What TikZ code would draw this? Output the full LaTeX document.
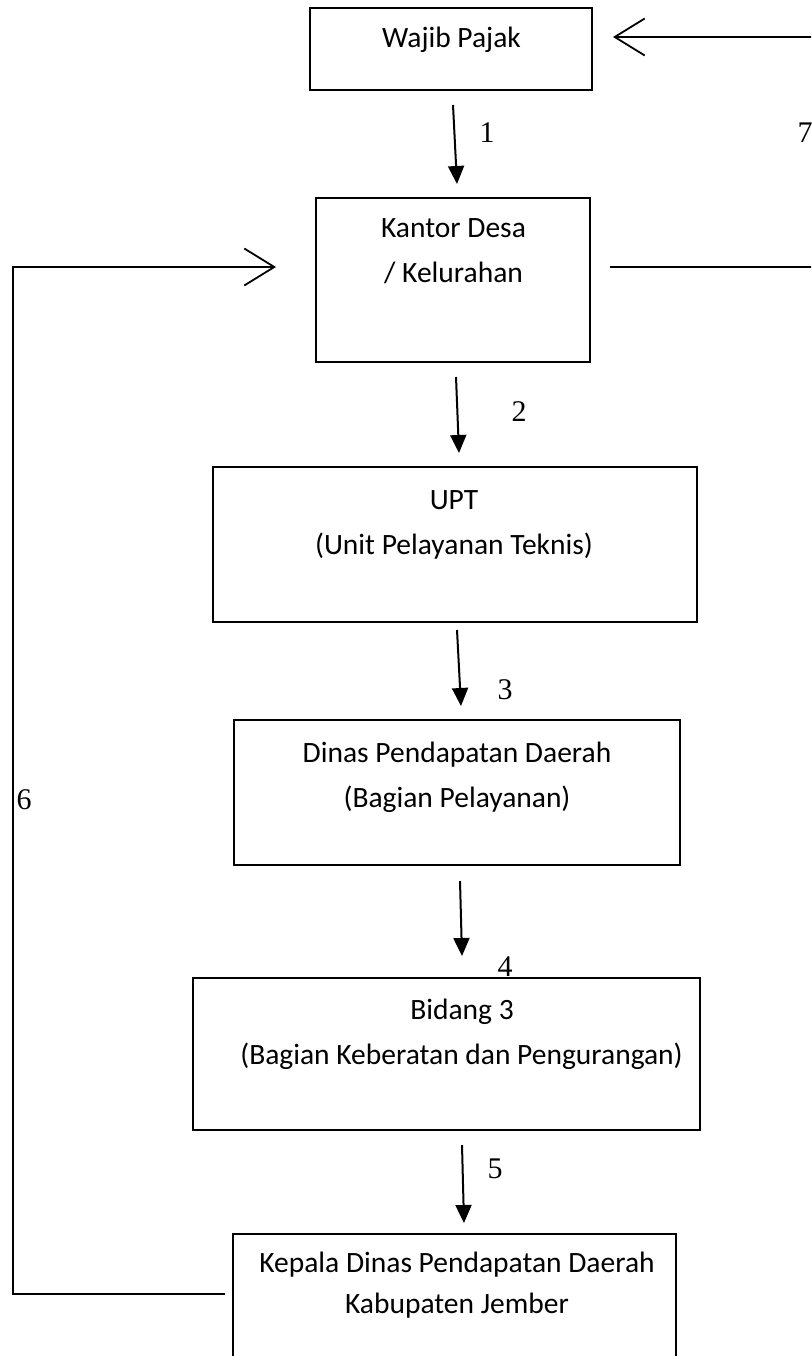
\documentclass[tikz,border=0pt]{standalone}
\usepackage{fontspec}
\setmainfont{Carlito}
\newfontfamily\numfont{Liberation Serif}
\usetikzlibrary{arrows.meta}
\begin{document}
\begin{tikzpicture}[x=1pt,y=-1pt,
  box/.style={draw, line width=1.8pt, inner sep=0pt},
  txt/.style={font=\fontsize{29.5}{33}\selectfont, inner sep=0pt, anchor=base},
  num/.style={font=\numfont\fontsize{30}{34}\selectfont, inner sep=0pt, anchor=base},
  flow/.style={line width=2pt, -{Triangle[length=18pt,width=16pt]}},
  back/.style={line width=1.8pt, -{Straight Barb[length=30pt,width=37pt]}},
  plain/.style={line width=1.8pt}]
\useasboundingbox (0,0) rectangle (811,1356);
\clip (0,0) rectangle (811,1356);
\fill[white] (0,0) rectangle (811,1356);

% boxes
\node[box, minimum width=282pt, minimum height=82pt] (wp) at (451,49) {};
\node[box, minimum width=274pt, minimum height=164pt] (kd) at (453,280) {};
\node[box, minimum width=484pt, minimum height=155pt] (upt) at (455,544.5) {};
\node[box, minimum width=446pt, minimum height=145pt] (dp) at (457,792.5) {};
\node[box, minimum width=507pt, minimum height=152pt] (b3) at (446.5,1054) {};
\node[box, minimum width=443pt, minimum height=166pt] (kp) at (454.5,1317) {};

% texts
\node[txt] (t1) at (451.5,48) {Wajib Pajak};
\node[txt] (t2a) at (453.5,237) {Kantor Desa};
\node[txt] (t2b) at (453.5,282) {/ Kelurahan};
\node[txt] (t3a) at (454,509) {UPT};
\node[txt] (t3b) at (454,554) {(Unit Pelayanan Teknis)};
\node[txt] (t4a) at (457,762) {Dinas Pendapatan Daerah};
\node[txt] (t4b) at (457,807) {(Bagian Pelayanan)};
\node[txt] (t5a) at (462,1019) {Bidang 3};
\node[txt] (t5b) at (461.5,1064) {(Bagian Keberatan dan Pengurangan)};
\node[txt] (t6a) at (457,1272) {Kepala Dinas Pendapatan Daerah};
\node[txt] (t6b) at (457,1313) {Kabupaten Jember};

% numbers
\node[num] (n1) at (487,143) {1};
\node[num] (n7) at (805,143) {7};
\node[num] (n2) at (519,421) {2};
\node[num] (n3) at (505,699) {3};
\node[num] (n4) at (505,976) {4};
\node[num] (n5) at (495,1178) {5};
\node[num] (n6) at (24,809) {6};

% flow arrow coordinates
\coordinate (a1s) at (453,105); \coordinate (a1e) at (457,184);
\coordinate (a2s) at (456,377); \coordinate (a2e) at (459,453);
\coordinate (a3s) at (457,630); \coordinate (a3e) at (461,706);
\coordinate (a4s) at (460,881); \coordinate (a4e) at (462,956);
\coordinate (a5s) at (462,1145); \coordinate (a5e) at (464,1223);
\draw[flow] (a1s) -- (a1e);
\draw[flow] (a2s) -- (a2e);
\draw[flow] (a3s) -- (a3e);
\draw[flow] (a4s) -- (a4e);
\draw[flow] (a5s) -- (a5e);

% loop 6
\coordinate (l6s) at (225,1294);
\coordinate (l6a) at (13,1294);
\coordinate (l6b) at (13,267);
\coordinate (l6e) at (276,267);
\draw[back] (l6s) -- (l6a) -- (l6b) -- (l6e);

% loop 7
\coordinate (l7s) at (610,267);
\coordinate (l7a) at (830,267);
\coordinate (l7b) at (830,37);
\coordinate (l7e) at (613,37);
\draw[back] (l7s) -- (l7a) -- (l7b) -- (l7e);
\end{tikzpicture}
\end{document}
